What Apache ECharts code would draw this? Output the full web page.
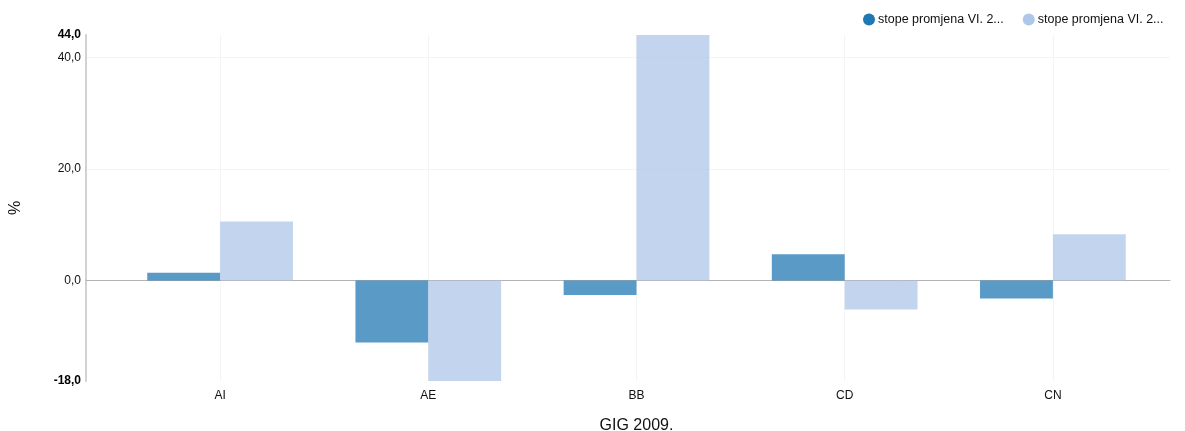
<!DOCTYPE html>
<html>
<head>
<meta charset="utf-8">
<script src="https://cdn.jsdelivr.net/npm/echarts@6/dist/echarts.min.js"></script>
<style>html,body{margin:0;padding:0;background:#fff}#c{width:1185px;height:431px}</style>
</head>
<body>
<div id="c"></div>
<script>
const categories = ['AI', 'AE', 'BB', 'CD', 'CN'];
const seriesNames = ['stope promjena VI. 2...', 'stope promjena VI. 2... '];
const series1 = [1.4, -11.1, -2.6, 4.7, -3.2];
const series2 = [10.6, -18.0, 44.0, -5.2, 8.3];
const yMin = -18, yMax = 44;
const xTitle = 'GIG 2009.';
const yTitle = '%';

const font = 'Liberation Sans, Arial, sans-serif';
function fmt(v) { return v.toFixed(1).replace('.', ','); }

const chart = echarts.init(document.getElementById('c'));
chart.setOption({
  animation: false,
  textStyle: { fontFamily: font },
  legend: {
    right: 18, top: 13, padding: 0, icon: 'circle', itemWidth: 12, itemHeight: 12, itemGap: 19,
    textStyle: { fontFamily: font, fontSize: 12.5, color: '#111', padding: [0, 0, 0, -2] },
    data: seriesNames.map(n => ({ name: n, itemStyle: { opacity: 1 } }))
  },
  grid: [
    { left: 116, right: 28, top: 35, bottom: 50, outerBoundsMode: 'none', containLabel: false },
    { left: 86, right: 15, top: 35, bottom: 50, outerBoundsMode: 'none', containLabel: false }
  ],
  xAxis: [
    {
      type: 'category', gridIndex: 0, data: categories,
      axisLine: { show: false, onZero: false }, axisTick: { show: false },
      axisLabel: { fontSize: 12, color: '#111', margin: 9, fontFamily: font },
      splitLine: { show: true, alignWithLabel: true, lineStyle: { color: '#f4f4f4', width: 1 } },
      name: xTitle, nameLocation: 'middle', nameGap: 37,
      nameTextStyle: { fontSize: 16, color: '#111', fontFamily: font }
    },
    {
      type: 'value', gridIndex: 1, min: 0, max: 1,
      axisLine: { show: true, onZero: true, lineStyle: { color: '#b3b3b3', width: 1 } },
      axisTick: { show: false }, axisLabel: { show: false }, splitLine: { show: false }
    }
  ],
  yAxis: [
    {
      type: 'value', gridIndex: 0, min: yMin, max: yMax, splitNumber: 3, show: false
    },
    {
      type: 'value', gridIndex: 1, min: yMin, max: yMax, splitNumber: 3,
      axisLine: { show: true, onZero: false, lineStyle: { color: '#d2d2d2', width: 2 } },
      axisTick: { show: false },
      axisLabel: {
        margin: 5, fontSize: 12, color: '#111', fontFamily: font,
        formatter: function (v) {
          if (v === yMin || v === yMax) return '{b|' + fmt(v) + '}';
          return fmt(v);
        },
        rich: { b: { fontWeight: 'bold', fontSize: 12, color: '#000', fontFamily: font } }
      },
      splitLine: { show: true, showMinLine: false, showMaxLine: false, lineStyle: { color: '#f4f4f4', width: 1 } },
      name: yTitle, nameLocation: 'middle', nameGap: 62, nameRotate: 90,
      nameTextStyle: { fontSize: 16, color: '#111', fontFamily: font }
    }
  ],
  series: [
    {
      name: seriesNames[0], type: 'bar', xAxisIndex: 0, yAxisIndex: 0,
      data: series1, barGap: '0%', barCategoryGap: '30%',
      itemStyle: { color: '#1f77b4', opacity: 0.74 }
    },
    {
      name: seriesNames[1], type: 'bar', xAxisIndex: 0, yAxisIndex: 0,
      data: series2, barGap: '0%', barCategoryGap: '30%',
      itemStyle: { color: '#aec7e8', opacity: 0.74 }
    }
  ]
});
</script>
</body>
</html>
